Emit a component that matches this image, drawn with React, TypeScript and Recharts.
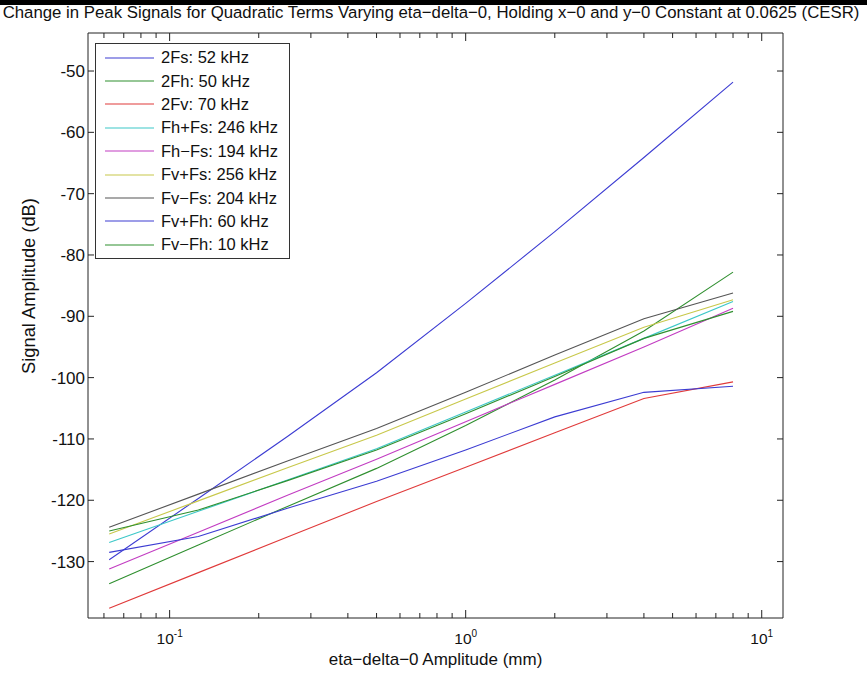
import React from "react";
import { LineChart, Line, XAxis, YAxis, Legend } from "recharts";

// eta-delta-0 amplitudes (mm)
const amplitudes = [0.0625, 0.125, 0.25, 0.5, 1, 2, 4, 8];

// peak signal levels (dB) per term
const s2Fs = [-129.7, -119.7, -109.6, -99.2, -87.9, -76.2, -64.1, -51.8];
const s2Fh = [-133.6, -127.3, -121.0, -114.8, -107.8, -100.4, -92.4, -82.8];
const s2Fv = [-137.6, -131.8, -126.0, -120.2, -114.6, -109.0, -103.4, -100.7];
const sFhPlusFs = [-126.9, -121.8, -116.7, -111.6, -105.6, -99.6, -93.6, -87.6];
const sFhMinusFs = [-131.2, -125.2, -119.2, -113.3, -107.2, -101.1, -95.0, -88.7];
const sFvPlusFs = [-125.5, -120.1, -114.7, -109.4, -103.5, -97.6, -91.8, -87.3];
const sFvMinusFs = [-124.4, -119.0, -113.6, -108.3, -102.4, -96.3, -90.4, -86.2];
const sFvPlusFh = [-128.5, -125.9, -121.3, -116.9, -111.8, -106.4, -102.4, -101.4];
const sFvMinusFh = [-125.0, -121.6, -116.8, -111.8, -105.9, -99.8, -93.6, -89.2];

const seriesNames = [
  "2Fs: 52 kHz",
  "2Fh: 50 kHz",
  "2Fv: 70 kHz",
  "Fh+Fs: 246 kHz",
  "Fh\u2212Fs: 194 kHz",
  "Fv+Fs: 256 kHz",
  "Fv\u2212Fs: 204 kHz",
  "Fv+Fh: 60 kHz",
  "Fv\u2212Fh: 10 kHz",
];
const seriesValues = [s2Fs, s2Fh, s2Fv, sFhPlusFs, sFhMinusFs, sFvPlusFs, sFvMinusFs, sFvPlusFh, sFvMinusFh];
const seriesColors = ["#3c3cd2", "#2f8f2f", "#e03a3a", "#3cc8c8", "#c23cc2", "#c8c84a", "#555555", "#3c3cd2", "#2f8f2f"];

const xTicks = [0.06, 0.07, 0.08, 0.09, 0.1, 0.2, 0.3, 0.4, 0.5, 0.6, 0.7, 0.8, 0.9, 1, 2, 3, 4, 5, 6, 7, 8, 9, 10];
const yTicks = [-130, -120, -110, -100, -90, -80, -70, -60, -50];

const data = amplitudes.map((x, i) => {
  const row: Record<string, number> = { x };
  seriesValues.forEach((vals, k) => {
    row[`s${k}`] = vals[i];
  });
  return row;
});

const FONT = "'Liberation Sans', Arial, Helvetica, sans-serif";
const AXIS = "#222";

const isDecade = (v: number) => Math.abs(Math.log10(v) - Math.round(Math.log10(v))) < 1e-9;

const XTick = (props: any) => {
  const { x, y, payload, top } = props;
  const v = payload.value;
  const major = isDecade(v);
  const len = major ? 8 : 5;
  if (top) {
    return <line x1={x} y1={y} x2={x} y2={y + len} stroke={AXIS} strokeWidth={1} />;
  }
  return (
    <g>
      <line x1={x} y1={y} x2={x} y2={y - len} stroke={AXIS} strokeWidth={1} />
      {major && (
        <text x={x} y={y + 26} textAnchor="middle" fontSize={15.5} fill="#111" fontFamily={FONT}>
          10
          <tspan dy={-7} fontSize={10}>
            {Math.round(Math.log10(v))}
          </tspan>
        </text>
      )}
    </g>
  );
};

const YTick = (props: any) => {
  const { x, y, payload, right } = props;
  if (right) {
    return <line x1={x} y1={y} x2={x - 6} y2={y} stroke={AXIS} strokeWidth={1} />;
  }
  return (
    <g>
      <line x1={x} y1={y} x2={x + 6} y2={y} stroke={AXIS} strokeWidth={1} />
      <text x={x - 3} y={y + 6} textAnchor="end" fontSize={17} fill="#111" fontFamily={FONT}>
        {payload.value}
      </text>
    </g>
  );
};

const LegendBox = () => (
  <div
    style={{
      background: "#fff",
      border: "1px solid #333",
      padding: "2px 11px 1px 9px",
      fontFamily: FONT,
      fontSize: 16.5,
      color: "#111",
    }}
  >
    {seriesNames.map((name, k) => (
      <div key={name} style={{ display: "flex", alignItems: "center", height: 23.4 }}>
        <svg width={49} height={4} style={{ marginRight: 7 }}>
          <line x1={0} y1={2} x2={49} y2={2} stroke={seriesColors[k]} strokeWidth={1.2} />
        </svg>
        <span style={{ whiteSpace: "nowrap" }}>{name}</span>
      </div>
    ))}
  </div>
);

export default function App() {
  return (
    <div style={{ position: "absolute", left: 0, top: 0, width: 867, height: 673, background: "#fff", fontFamily: FONT, overflow: "hidden" }}>
      <div style={{ position: "absolute", left: 0, top: 0, width: 867, height: 5, background: "#000" }} />
      <div
        style={{
          position: "absolute",
          left: 0,
          width: 862,
          top: 3,
          textAlign: "center",
          fontSize: 16.8,
          color: "#111",
          whiteSpace: "nowrap",
        }}
      >
        Change in Peak Signals for Quadratic Terms Varying eta{"\u2212"}delta{"\u2212"}0, Holding x{"\u2212"}0 and y{"\u2212"}0 Constant at 0.0625 (CESR)
      </div>
      <div style={{ position: "absolute", left: 88, width: 695, top: 650, textAlign: "center", fontSize: 17, color: "#111", whiteSpace: "nowrap" }}>
        eta{"\u2212"}delta{"\u2212"}0 Amplitude (mm)
      </div>
      <div
        style={{
          position: "absolute",
          left: 29,
          top: 286,
          transform: "translate(-50%, -50%) rotate(-90deg)",
          fontSize: 18.3,
          color: "#111",
          whiteSpace: "nowrap",
        }}
      >
        Signal Amplitude (dB)
      </div>
      <div style={{ position: "absolute", left: 0, top: 0 }}>
        <LineChart width={843} height={673} data={data} margin={{ top: 0, right: 0, bottom: 0, left: 0 }}>
          <XAxis
            dataKey="x"
            type="number"
            scale="log"
            domain={[0.053, 11.8]}
            allowDataOverflow
            ticks={xTicks}
            interval={0}
            height={55}
            tickSize={0}
            tickMargin={0}
            tickLine={false}
            axisLine={{ stroke: AXIS }}
            tick={(p: any) => <XTick {...p} />}
          />
          <XAxis
            xAxisId="top"
            orientation="top"
            dataKey="x"
            type="number"
            scale="log"
            domain={[0.053, 11.8]}
            allowDataOverflow
            ticks={xTicks}
            interval={0}
            height={33}
            tickSize={0}
            tickMargin={0}
            tickLine={false}
            axisLine={{ stroke: AXIS }}
            tick={(p: any) => <XTick {...p} top />}
          />
          <YAxis
            type="number"
            domain={[-139.2, -43.8]}
            allowDataOverflow
            ticks={yTicks}
            interval={0}
            width={88}
            tickSize={0}
            tickMargin={0}
            tickLine={false}
            axisLine={{ stroke: AXIS }}
            tick={(p: any) => <YTick {...p} />}
          />
          <YAxis
            yAxisId="right"
            orientation="right"
            type="number"
            domain={[-139.2, -43.8]}
            allowDataOverflow
            ticks={yTicks}
            interval={0}
            width={60}
            tickSize={0}
            tickMargin={0}
            tickLine={false}
            axisLine={{ stroke: AXIS }}
            tick={(p: any) => <YTick {...p} right />}
          />
          {seriesNames.map((name, k) => (
            <Line
              key={name}
              type="linear"
              dataKey={`s${k}`}
              name={name}
              stroke={seriesColors[k]}
              strokeWidth={1.1}
              dot={false}
              activeDot={false}
              isAnimationActive={false}
            />
          ))}
          <Legend
            layout="vertical"
            align="center"
            verticalAlign="middle"
            content={() => <LegendBox />}
            wrapperStyle={{ position: "absolute", left: 95, top: 43, width: "auto" }}
          />
        </LineChart>
      </div>
    </div>
  );
}
